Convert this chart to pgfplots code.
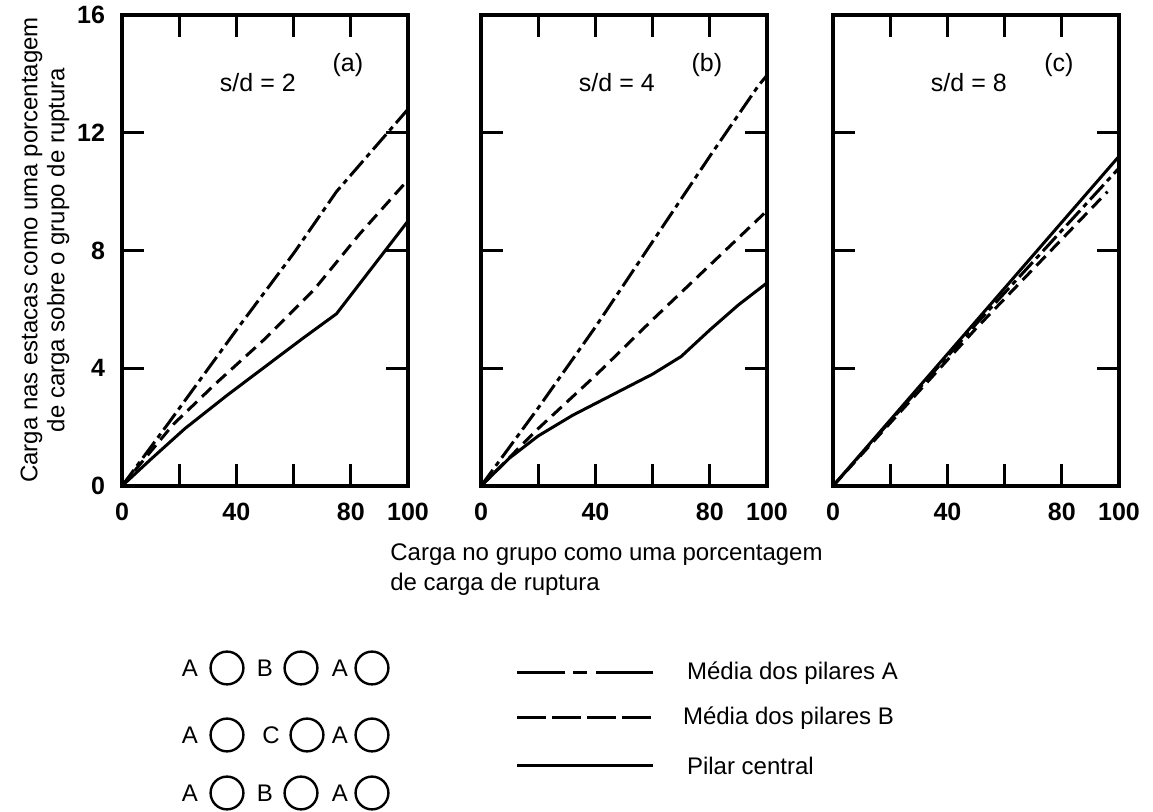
\documentclass[border=0pt]{standalone}
\usepackage{pgfplots}
\pgfplotsset{compat=1.18}
\usepackage{fontspec}
\setmainfont{Liberation Sans}

\pgfplotstableread{
x y
0 0
16 2.1
40 5.3
60 7.9
75 10.0
100 12.8
}\aA
\pgfplotstableread{
x y
0 0
18 2.1
33 3.5
50 5.0
67 6.65
83 8.55
100 10.4
}\aB
\pgfplotstableread{
x y
0 0
10 0.9
22 1.95
37 3.1
50 4.05
63 5.0
75 5.85
100 9.0
}\aC
\pgfplotstableread{
x y
0 0
20 2.65
40 5.4
60 8.3
80 11.2
97 13.6
100 13.95
}\bA
\pgfplotstableread{
x y
0 0
20 1.95
40 3.75
60 5.65
80 7.5
100 9.35
}\bB
\pgfplotstableread{
x y
0 0
10 0.95
20 1.7
32 2.4
46 3.1
60 3.8
70 4.4
80 5.3
90 6.15
100 6.9
}\bC
\pgfplotstableread{
x y
0 0
50 5.5
100 10.8
}\cA
\pgfplotstableread{
x y
0 0
50 5.35
96 10.0
}\cB
\pgfplotstableread{
x y
0 0
50 5.6
100 11.2
}\cC

\pgfplotsset{
  panel/.style={
    scale only axis, width=143pt, height=235.5pt,
    xmin=0, xmax=100, ymin=0, ymax=16,
    axis line style={line width=2pt},
    every tick/.style={line width=1.5pt, black},
    tick align=inside, major tick length=11pt,
    xtick={0,20,40,60,80,100}, xticklabels={0,,40,,80,100},
    ytick={0,4,8,12,16}, yticklabels={},
    /pgf/number format/assume math mode=true,
    tick label style={font=\fontsize{12.5}{14}\selectfont\bfseries},
    xticklabel style={yshift=-5pt},
    yticklabel style={xshift=-5pt},
    clip=false,
  },
  lA/.style={black, line width=1.5pt, dash pattern=on 10pt off 2.5pt on 2.5pt off 2.5pt},
  lB/.style={black, line width=1.5pt, dash pattern=on 6.5pt off 3.5pt},
  lC/.style={black, line width=1.5pt},
}
\newcommand{\anno}{\fontsize{12.5}{15}\selectfont}
\newcommand{\leg}{\fontsize{12}{14}\selectfont}

\begin{document}
\begin{tikzpicture}
\useasboundingbox (0,0) rectangle (576.5pt,406pt);

\begin{axis}[panel, at={(61pt,163pt)}, anchor=south west, yticklabels={0,4,8,12,16}]
\addplot[lA] table {\aA};
\addplot[lB] table {\aB};
\addplot[lC] table {\aC};
\node[font=\anno] at (axis cs:47.5,13.7) {s/d = 2};
\node[font=\anno] at (axis cs:79,14.3) {(a)};
\end{axis}

\begin{axis}[panel, at={(240.5pt,163pt)}, anchor=south west]
\addplot[lA] table {\bA};
\addplot[lB] table {\bB};
\addplot[lC] table {\bC};
\node[font=\anno] at (axis cs:47.5,13.7) {s/d = 4};
\node[font=\anno] at (axis cs:79,14.3) {(b)};
\end{axis}

\begin{axis}[panel, at={(416.5pt,163pt)}, anchor=south west]
\addplot[lA] table {\cA};
\addplot[lB] table {\cB};
\addplot[lC] table {\cC};
\node[font=\anno] at (axis cs:47.5,13.7) {s/d = 8};
\node[font=\anno] at (axis cs:79,14.3) {(c)};
\end{axis}

% y label
\node[rotate=90, align=center, inner sep=0pt, font=\fontsize{12}{13.5}\selectfont] at (22.5pt,281pt)
  {Carga nas estacas como uma porcentagem\\de carga sobre o grupo de ruptura};
% x label
\node[anchor=west, align=left, inner sep=0pt, font=\fontsize{12}{15}\selectfont] at (195pt,121pt)
  {Carga no grupo como uma porcentagem\\de carga de ruptura};

% legend
\draw[line width=1.5pt, dash pattern=on 24pt off 4pt on 7pt off 4.5pt on 40pt] (258.5pt,69.5pt) -- (326.5pt,69.5pt);
\draw[line width=1.5pt, dash pattern=on 14.5pt off 3pt] (258.5pt,47pt) -- (326.5pt,47pt);
\draw[line width=1.5pt] (258.5pt,23pt) -- (326.5pt,23pt);
\node[anchor=west, font=\leg] at (340pt,69.5pt) {Média dos pilares A};
\node[anchor=west, font=\leg] at (338pt,47pt) {Média dos pilares B};
\node[anchor=west, font=\leg] at (340pt,23pt) {Pilar central};

% pile arrangement
\foreach \yy/\mid/\mx in {72/B/150.5, 38.5/C/153.5, 9.5/B/150.5} {
  \node[font=\leg] at (95pt,\yy pt) {A};
  \draw[line width=1.2pt] (113.5pt,\yy pt) circle (8.2pt);
  \node[font=\leg] at (\mx pt-18pt,\yy pt) {\mid};
  \draw[line width=1.2pt] (\mx pt,\yy pt) circle (8.2pt);
  \node[font=\leg] at (170pt,\yy pt) {A};
  \draw[line width=1.2pt] (186pt,\yy pt) circle (8.2pt);
}
\end{tikzpicture}
\end{document}
